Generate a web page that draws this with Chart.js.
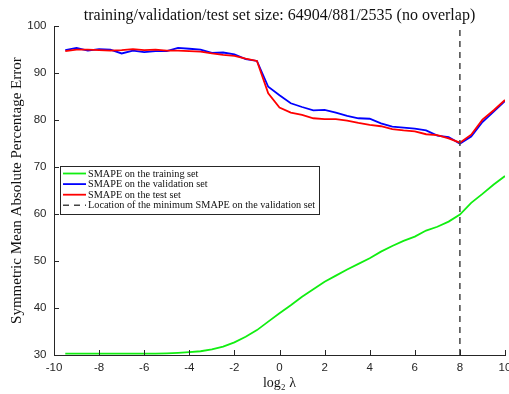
<!DOCTYPE html>
<html>
<head>
<meta charset="utf-8">
<script src="https://cdn.jsdelivr.net/npm/chart.js@4.4.1/dist/chart.umd.min.js"></script>
<style>
    html, body { margin: 0; padding: 0; background: #fff; overflow: hidden; }
    #wrap { width: 530px; height: 394px; position: relative; }
</style>
</head>
<body>
<div id="wrap"><canvas id="smapeChart"></canvas></div>
<script>
// log2(lambda) grid
const log2Lambda = [-9.5, -9, -8.5, -8, -7.5, -7, -6.5, -6, -5.5, -5,
    -4.5, -4, -3.5, -3, -2.5, -2, -1.5, -1, -0.5, 0,
    0.5, 1, 1.5, 2, 2.5, 3, 3.5, 4, 4.5, 5,
    5.5, 6, 6.5, 7, 7.5, 8, 8.5, 9, 9.5, 10];

const trainSmape = [30.3, 30.3, 30.3, 30.3, 30.3, 30.3, 30.3, 30.3, 30.3, 30.35,
    30.45, 30.6, 30.8, 31.2, 31.8, 32.7, 33.9, 35.3, 37.1, 38.9,
    40.6, 42.4, 44.0, 45.6, 46.9, 48.2, 49.4, 50.6, 52.0, 53.2,
    54.3, 55.2, 56.5, 57.3, 58.4, 59.9, 62.4, 64.3, 66.3, 68.1];

const valSmape = [94.9, 95.4, 94.8, 95.1, 95.0, 94.2, 94.8, 94.5, 94.7, 94.7,
    95.4, 95.2, 95.0, 94.3, 94.4, 94.0, 93.0, 92.6, 87.1, 85.3,
    83.6, 82.8, 82.1, 82.2, 81.6, 80.9, 80.4, 80.3, 79.3, 78.6,
    78.4, 78.2, 77.8, 76.7, 76.4, 75.0, 76.5, 79.6, 81.8, 84.1];

const testSmape = [94.7, 95.0, 95.0, 94.9, 94.8, 94.9, 95.1, 94.9, 95.0, 94.8,
    94.8, 94.7, 94.6, 94.2, 93.9, 93.7, 93.1, 92.6, 85.7, 82.7,
    81.6, 81.1, 80.4, 80.2, 80.2, 79.9, 79.4, 79.0, 78.7, 78.1,
    77.8, 77.6, 77.0, 76.8, 76.1, 75.2, 76.9, 80.1, 82.1, 84.3];

const minLocation = 8;
const xTicks = [-10, -8, -6, -4, -2, 0, 2, 4, 6, 8, 10];
const yTicks = [30, 40, 50, 60, 70, 80, 90, 100];

const titleText = 'training/validation/test set size: 64904/881/2535 (no overlap)';
const yTitle = 'Symmetric Mean Absolute Percentage Error';
const xTitle = 'log\u2082 \u03BB';
const labels = [
    'SMAPE on the training set',
    'SMAPE on the validation set',
    'SMAPE on the test set',
    'Location of the minimum SMAPE on the validation set'
];

const axisColor = '#262626';
const serif = "'Liberation Serif', 'Times New Roman', serif";
const sans = "'Liberation Sans', Arial, sans-serif";

function toPoints(values) {
    return values.map((v, i) => ({ x: log2Lambda[i], y: v }));
}

// MATLAB-style inward tick marks
const inwardTicks = {
    id: 'inwardTicks',
    afterDatasetsDraw(chart) {
        const ctx = chart.ctx;
        const xs = chart.scales.x, ys = chart.scales.y;
        const area = chart.chartArea;
        ctx.save();
        ctx.strokeStyle = axisColor;
        ctx.lineWidth = 1;
        ctx.beginPath();
        xs.ticks.forEach(t => {
            const px = Math.round(xs.getPixelForValue(t.value)) + 0.5;
            ctx.moveTo(px, area.bottom);
            ctx.lineTo(px, area.bottom - 5);
        });
        ys.ticks.forEach(t => {
            const py = Math.round(ys.getPixelForValue(t.value)) + 0.5;
            ctx.moveTo(area.left, py);
            ctx.lineTo(area.left + 5, py);
        });
        ctx.stroke();
        ctx.restore();
    }
};

// legend box in the middle-left of the plot
const legendBox = {
    id: 'legendBox',
    afterDraw(chart) {
        const ctx = chart.ctx;
        const left = 60, top = 166, width = 259, height = 48;
        const rowH = 10.6;
        ctx.save();
        ctx.fillStyle = '#fff';
        ctx.fillRect(left, top, width, height);
        ctx.strokeStyle = '#262626';
        ctx.lineWidth = 1;
        ctx.strokeRect(left + 0.5, top + 0.5, width, height);
        ctx.font = '10.25px ' + serif;
        ctx.textBaseline = 'middle';
        chart.data.datasets.forEach((ds, i) => {
            const y = top + 7.5 + i * rowH;
            ctx.beginPath();
            ctx.strokeStyle = ds.borderColor;
            ctx.lineWidth = ds.borderWidth;
            ctx.setLineDash(ds.borderDash || []);
            ctx.moveTo(left + 3, y);
            ctx.lineTo(left + 26, y);
            ctx.stroke();
            ctx.setLineDash([]);
            ctx.fillStyle = '#111';
            ctx.fillText(ds.label, left + 28, y + 0.5);
        });
        ctx.restore();
    }
};

const ctx = document.getElementById('smapeChart').getContext('2d');
const chart = new Chart(ctx, {
    type: 'line',
    data: {
        datasets: [
            {
                label: labels[0],
                data: toPoints(trainSmape),
                borderColor: '#11ee11',
                borderWidth: 1.8,
                pointRadius: 0,
                order: 3
            },
            {
                label: labels[1],
                data: toPoints(valSmape),
                borderColor: '#0000ff',
                borderWidth: 1.8,
                pointRadius: 0,
                order: 2
            },
            {
                label: labels[2],
                data: toPoints(testSmape),
                borderColor: '#ff0000',
                borderWidth: 1.8,
                pointRadius: 0,
                order: 1
            },
            {
                label: labels[3],
                data: [{ x: minLocation, y: yTicks[0] }, { x: minLocation, y: yTicks[yTicks.length - 1] }],
                borderColor: '#444444',
                borderWidth: 1.5,
                borderDash: [6, 5],
                pointRadius: 0,
                order: 0
            }
        ]
    },
    options: {
        responsive: true,
        maintainAspectRatio: false,
        animation: false,
        layout: { padding: { left: 0, right: 25, top: 0, bottom: 0 } },
        plugins: {
            legend: { display: false },
            tooltip: { enabled: false },
            title: {
                display: true,
                text: titleText,
                fullSize: false,
                color: '#111',
                font: { family: serif, size: 16, weight: 'normal' },
                padding: { top: 6.5, bottom: 0.5 }
            }
        },
        scales: {
            x: {
                type: 'linear',
                min: xTicks[0],
                max: xTicks[xTicks.length - 1],
                afterBuildTicks: scale => { scale.ticks = xTicks.map(v => ({ value: v })); },
                afterFit: scale => { scale.height = 39; },
                grid: { display: false, drawTicks: false },
                border: { display: true, color: axisColor, width: 1 },
                ticks: { color: axisColor, padding: 6, maxRotation: 0, autoSkip: false,
                    font: { family: sans, size: 11.5 } },
                title: { display: true, text: xTitle, color: '#111',
                    font: { family: serif, size: 14 }, padding: { top: 2, bottom: 2 } }
            },
            y: {
                type: 'linear',
                min: yTicks[0],
                max: yTicks[yTicks.length - 1],
                afterBuildTicks: scale => { scale.ticks = yTicks.map(v => ({ value: v })); },
                afterFit: scale => { scale.width = 54; },
                grid: { display: false, drawTicks: false },
                border: { display: true, color: axisColor, width: 1 },
                ticks: { color: axisColor, padding: 7.5, autoSkip: false,
                    font: { family: sans, size: 11.5 } },
                title: { display: true, text: yTitle, color: '#111',
                    font: { family: serif, size: 15 }, padding: { top: 8, bottom: 0 } }
            }
        }
    },
    plugins: [inwardTicks, legendBox]
});
</script>
</body>
</html>
